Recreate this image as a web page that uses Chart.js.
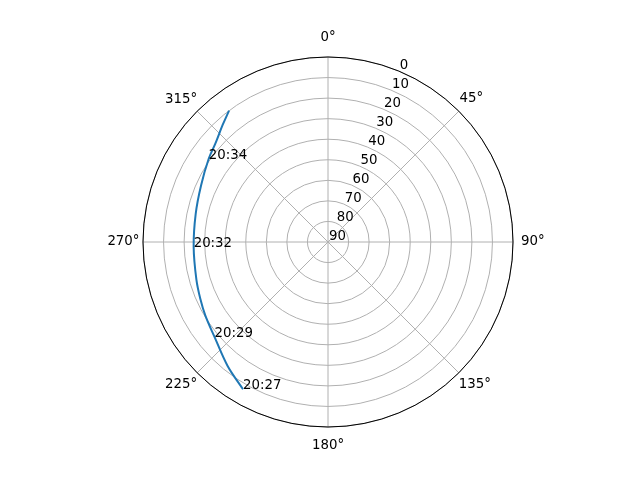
<!DOCTYPE html>
<html>
<head>
<meta charset="utf-8">
<script src="https://cdn.jsdelivr.net/npm/chart.js@4"></script>
<style>
  html, body { margin: 0; padding: 0; background: #fff; }
  #wrap { width: 640px; height: 480px; }
</style>
</head>
<body>
<div id="wrap"><canvas id="skyPlot" width="640" height="480"></canvas></div>
<script>
// Satellite pass, sky plot (azimuth clockwise from north, elevation 90 at centre)
const azimuthDeg = Array.from({ length: 360 }, (_, i) => i);
const thetaTicks = [0, 45, 90, 135, 180, 225, 270, 315];
const radialTicks = [0, 10, 20, 30, 40, 50, 60, 70, 80, 90];

// pass track
const trackAz = [210, 219, 230, 239, 246, 254, 268, 282, 294, 305, 311, 318, 323];
const trackEl = [7.3, 12.4, 18.0, 20.4, 22.0, 23.4, 24.6, 24.2, 22.4, 19.2, 17.3, 13.4, 10.0];
const trackTime = ['20:27', '', '20:29', '', '', '', '20:32', '', '', '20:34', '', '', ''];

const trackSeries = azimuthDeg.map(() => null);
trackAz.forEach((az, i) => { trackSeries[az] = trackEl[i]; });

const FONT = '"DejaVu Sans", sans-serif';
Chart.defaults.font.family = FONT;

// per-label nudges so the angle labels sit like matplotlib's
const labelPad = { 0: 11, 45: 1, 90: 8, 135: 0, 180: 11, 225: 0, 270: 3.5, 315: 0 };

const polarExtras = {
  id: 'polarExtras',
  afterDatasetsUpdate(chart) {
    // radar lines always close on themselves; the pass track must stay open
    chart.getSortedVisibleDatasetMetas().forEach(meta => {
      meta.dataset._loop = false;
      meta.dataset._pointsUpdated = false;
      delete meta.dataset._segments;
      delete meta.dataset._path;
    });
  },
  afterDraw(chart) {
    const c = chart.ctx;
    const r = chart.scales.r;
    c.save();
    // outer spine
    c.beginPath();
    c.arc(r.xCenter, r.yCenter, r.drawingArea, 0, Math.PI * 2);
    c.strokeStyle = '#000';
    c.lineWidth = 1;
    c.stroke();

    // radial tick labels along 22.5 deg
    c.font = '13.33px ' + FONT;
    c.fillStyle = '#000';
    c.textAlign = 'left';
    c.textBaseline = 'alphabetic';
    const a = 22.5 * Math.PI / 180;
    radialTicks.forEach(v => {
      const d = r.getDistanceFromCenterForValue(v);
      const x = r.xCenter + d * Math.sin(a);
      const y = r.yCenter - d * Math.cos(a);
      c.fillText(String(v), x + 1, y - 2.3);
    });

    // time annotations on the track
    const pts = chart.getDatasetMeta(0).data;
    trackAz.forEach((az, i) => {
      if (!trackTime[i]) return;
      const p = pts[az];
      c.fillText(trackTime[i], p.x, p.y);
    });
    c.restore();
  }
};

const ctx = document.getElementById('skyPlot').getContext('2d');
const skyPlot = new Chart(ctx, {
  type: 'radar',
  data: {
    labels: azimuthDeg,
    datasets: [{
      data: trackSeries,
      borderColor: '#1f77b4',
      borderWidth: 2,
      pointRadius: 0,
      pointHoverRadius: 0,
      spanGaps: true,
      tension: 0.35,
      fill: false
    }]
  },
  options: {
    responsive: false,
    animation: false,
    events: [],
    layout: { padding: { top: 30, bottom: 26, left: 16, right: 0 } },
    plugins: {
      legend: { display: false },
      tooltip: { enabled: false }
    },
    scales: {
      r: {
        min: 0,
        max: 90,
        reverse: true,
        ticks: { display: false, stepSize: 10 },
        grid: { circular: true, color: '#b0b0b0', lineWidth: 1 },
        angleLines: {
          color: c => (c.index % 45 === 0 ? '#b0b0b0' : 'rgba(0,0,0,0)'),
          lineWidth: c => (c.index % 45 === 0 ? 1 : 0)
        },
        pointLabels: {
          color: '#000',
          callback: (label) => (thetaTicks.includes(label) ? label + '°' : ''),
          padding: c => (labelPad[c.index] !== undefined ? labelPad[c.index] : 0),
          font: c => ({
            family: FONT,
            size: 13.33,
            lineHeight: (c.index % 90 === 45) ? 1.8 : 1.2
          })
        }
      }
    }
  },
  plugins: [polarExtras]
});
</script>
</body>
</html>
